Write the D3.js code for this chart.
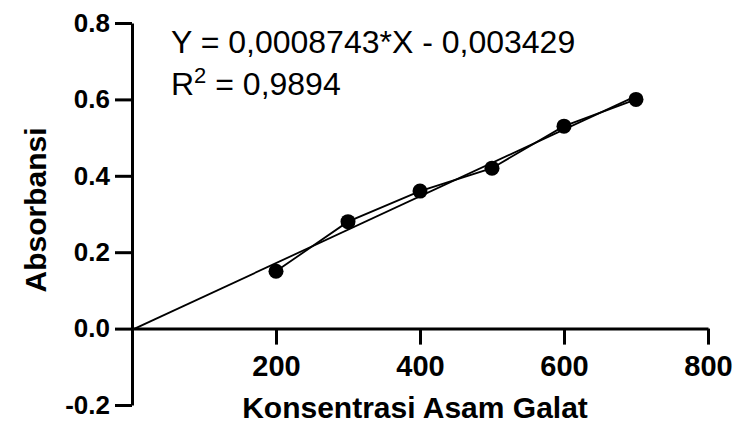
<!DOCTYPE html>
<html>
<head>
<meta charset="utf-8">
<script src="https://cdn.jsdelivr.net/npm/d3@7"></script>
<style>
  body { margin: 0; background: #fff; }
  svg { display: block; font-family: "Liberation Sans", Arial, sans-serif; }
</style>
</head>
<body>
<div id="chart"></div>
<script>
// data
const konsentrasi = [200, 300, 400, 500, 600, 700];
const absorbansi = [0.15, 0.28, 0.36, 0.42, 0.53, 0.60];
const xTicks = [200, 400, 600, 800];
const yTicks = [-0.2, 0.0, 0.2, 0.4, 0.6, 0.8];
const slope = 0.0008743;
const intercept = -0.003429;
const eqText = "Y = 0,0008743*X - 0,003429";
const r2Text = "0,9894";

const width = 734, height = 425;

const x = d3.scaleLinear().domain([0, 800]).range([132, 708]);
const y = d3.scaleLinear().domain([-0.2, 0.8]).range([405, 23]);

const fmt = d3.format(".1f");

const svg = d3.select("#chart").append("svg")
    .attr("width", width)
    .attr("height", height);

// y axis
const yAxis = svg.append("g")
    .attr("transform", `translate(${x(0)},0)`)
    .call(d3.axisLeft(y).tickValues(yTicks).tickSize(17).tickSizeOuter(0)
        .tickPadding(5).tickFormat(d => fmt(d).replace("\u2212", "-")));

// x axis sits on y = 0
const xAxis = svg.append("g")
    .attr("transform", `translate(0,${y(0)})`)
    .call(d3.axisBottom(x).tickValues(xTicks).tickSize(16).tickSizeOuter(0)
        .tickPadding(11));

[yAxis, xAxis].forEach(g => {
    g.select(".domain").attr("stroke", "#000").attr("stroke-width", 3);
    g.selectAll(".tick line").attr("stroke", "#000").attr("stroke-width", 3);
    g.selectAll(".tick text")
        .attr("fill", "#000")
        .attr("font-family", "'Liberation Sans', Arial, sans-serif")
        .attr("font-weight", "bold");
});
yAxis.selectAll(".tick text").attr("font-size", 26);
xAxis.selectAll(".tick text").attr("font-size", 29);

// regression line from 0 to the last point
const fit = [0, d3.max(konsentrasi)].map(v => [v, slope * v + intercept]);
svg.append("path")
    .datum(fit)
    .attr("fill", "none")
    .attr("stroke", "#000")
    .attr("stroke-width", 1.8)
    .attr("d", d3.line().x(d => x(d[0])).y(d => y(d[1])));

// connecting line through the points
const pts = konsentrasi.map((k, i) => [k, absorbansi[i]]);
svg.append("path")
    .datum(pts)
    .attr("fill", "none")
    .attr("stroke", "#000")
    .attr("stroke-width", 1.8)
    .attr("d", d3.line().x(d => x(d[0])).y(d => y(d[1])));

svg.append("g")
    .selectAll("circle")
    .data(pts)
    .join("circle")
    .attr("cx", d => x(d[0]))
    .attr("cy", d => y(d[1]))
    .attr("r", 7.5)
    .attr("fill", "#000");

// equation
svg.append("text")
    .attr("x", 171)
    .attr("y", 53)
    .attr("font-size", 32)
    .text(eqText);

const r2 = svg.append("text")
    .attr("x", 171)
    .attr("y", 95)
    .attr("font-size", 32);
r2.append("tspan").text("R");
r2.append("tspan").attr("font-size", 22).attr("dy", -12).text("2");
r2.append("tspan").attr("dy", 12).text(" = " + r2Text);

// axis titles
svg.append("text")
    .attr("x", 415)
    .attr("y", 418)
    .attr("text-anchor", "middle")
    .attr("font-size", 30)
    .attr("font-weight", "bold")
    .text("Konsentrasi Asam Galat");

svg.append("text")
    .attr("transform", "translate(46,210) rotate(-90)")
    .attr("text-anchor", "middle")
    .attr("font-size", 30)
    .attr("font-weight", "bold")
    .text("Absorbansi");
</script>
</body>
</html>
